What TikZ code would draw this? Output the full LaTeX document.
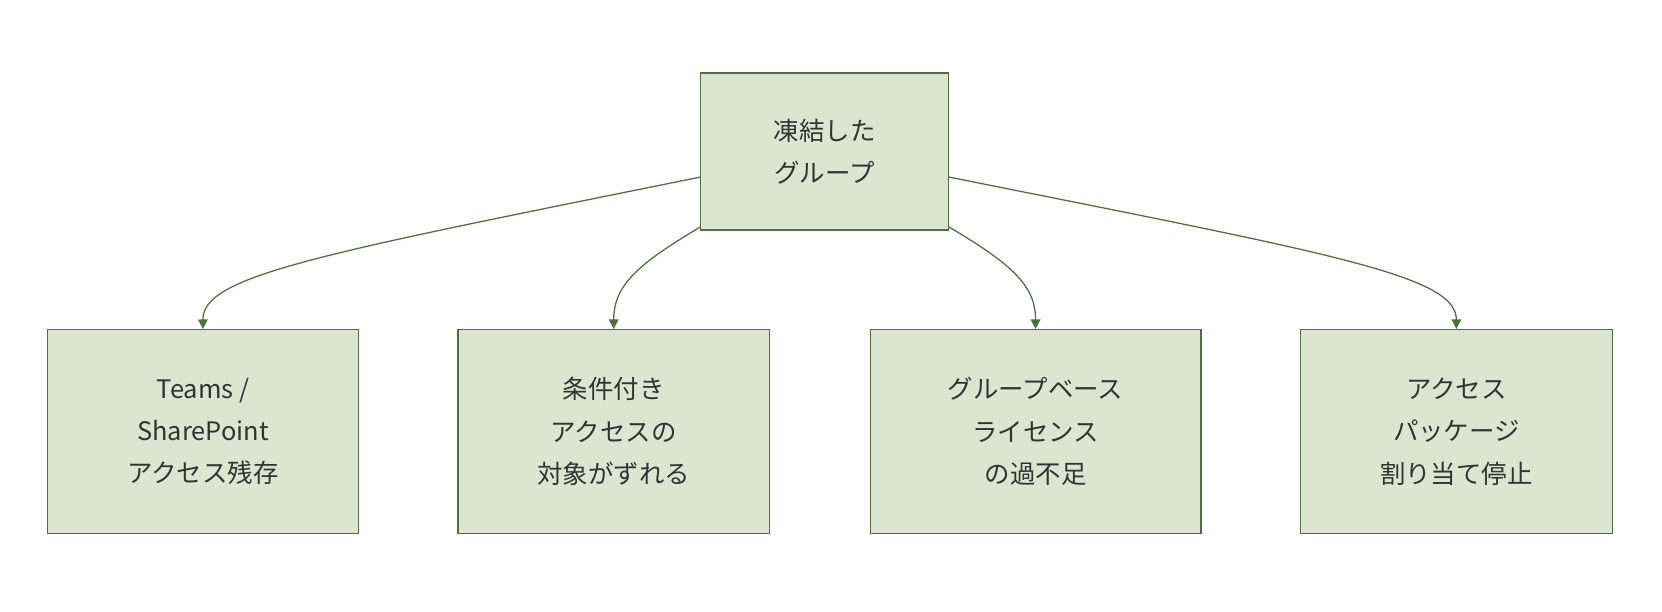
\documentclass[tikz,border=0pt]{standalone}
\usepackage{fontspec}
\setmainfont{Noto Sans CJK JP}
\usetikzlibrary{arrows.meta}
\definecolor{bfill}{HTML}{DCE5CF}
\definecolor{bline}{HTML}{4E6F3E}
\definecolor{txt}{HTML}{333333}
\begin{document}
\begin{tikzpicture}[x=1pt,y=-1pt,
  box/.style={draw=bline,fill=bfill,line width=1.2pt,text=txt,align=center,font=\fontsize{24}{40}\selectfont,inner sep=0pt},
  edge/.style={draw=bline,line width=1.2pt,-{Triangle[length=9pt,width=9pt]}}]
\useasboundingbox (0,0) rectangle (1568,577);
\node[box,minimum width=234pt,minimum height=148pt] (g) at (778,143) {凍結した\\グループ};
\node[box,minimum width=293pt,minimum height=192pt] (a) at (191.5,407) {Teams /\\SharePoint\\アクセス残存};
\node[box,minimum width=294pt,minimum height=192pt] (b) at (579,407) {条件付き\\アクセスの\\対象がずれる};
\node[box,minimum width=312pt,minimum height=192pt] (c) at (977,407) {グループベース\\ライセンス\\の過不足};
\node[box,minimum width=294pt,minimum height=192pt] (d) at (1374,407) {アクセス\\パッケージ\\割り当て停止};
\coordinate (g1) at (661,167);
\coordinate (g2) at (661,214);
\coordinate (g3) at (895,214);
\coordinate (g4) at (895,167);
\draw[edge] (g1) .. controls (300,240) and (191,260) .. (a.north);
\draw[edge] (g2) .. controls (600,250) and (579,270) .. (b.north);
\draw[edge] (g3) .. controls (956,250) and (977,270) .. (c.north);
\draw[edge] (g4) .. controls (1260,240) and (1374,260) .. (d.north);
\end{tikzpicture}
\end{document}
